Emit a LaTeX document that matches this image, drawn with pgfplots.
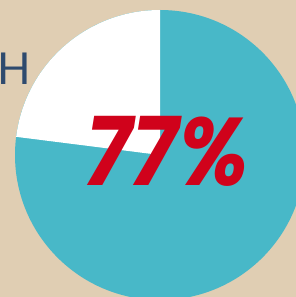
\documentclass[border=0pt]{standalone}
\usepackage{pgfplots}
\pgfplotsset{compat=1.18}
\usepackage{fontspec}
\setmainfont{Liberation Sans}
\newfontfamily\hfont{Lato}
\newfontfamily\bigfont{Poppins}
\definecolor{bg}{HTML}{E0CEB3}
\definecolor{teal}{HTML}{48B8C8}
\definecolor{redtxt}{HTML}{D0021B}
\definecolor{hcol}{HTML}{2E4A6E}
\begin{document}
\begin{tikzpicture}
\def\valA{77}
\def\valB{23}
\begin{axis}[
  width=296pt, height=297pt, scale only axis,
  xmin=0, xmax=296, ymin=0, ymax=297,
  hide axis, clip=true,
  axis background/.style={fill=bg},
]
\addplot[draw=none, fill=bg] coordinates {(0,0) (296,0) (296,297) (0,297)} -- cycle;
\fill[teal] (axis cs:160,142) circle[radius=145pt];
\pgfmathsetmacro{\endang}{90+3.6*\valB}
\fill[white] (axis cs:160,142) -- ([shift={(90:145pt)}]axis cs:160,142)
   arc[start angle=90, end angle=\endang, radius=145pt] -- cycle;
\node[text=hcol, font=\hfont\fontsize{44}{44}\selectfont, anchor=base west, inner sep=0pt] at (axis cs:-3,212) {H};
\node[text=redtxt, font=\bigfont\bfseries\itshape\fontsize{96}{96}\selectfont, xscale=0.9, inner sep=0pt, anchor=base] at (axis cs:167,111) {\valA\%};
\end{axis}
\end{tikzpicture}
\end{document}
